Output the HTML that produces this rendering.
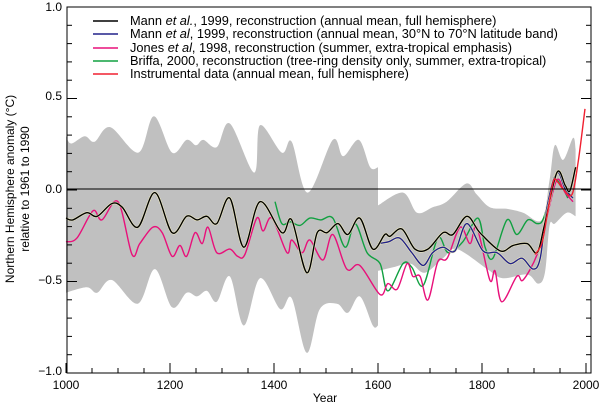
<!DOCTYPE html>
<html><head><meta charset="utf-8"><style>
html,body{margin:0;padding:0;background:#fff;}
svg{display:block;font-family:"Liberation Sans",Arial,sans-serif;}
</style></head><body>
<svg id="s" width="600" height="405" viewBox="0 0 600 405" xmlns="http://www.w3.org/2000/svg">
<g id="band"></g>
<g id="lines" fill="none" stroke-width="1.4"></g>
<line x1="67" y1="189" x2="591" y2="189" stroke="#000" stroke-width="1"/>
<rect x="67" y="7" width="524" height="366" fill="none" stroke="#000" stroke-width="1"/>
<g id="ticks" stroke="#000" stroke-width="1"></g>
<g font-size="12" fill="#000">
<text x="62" y="11" text-anchor="end">1.0</text>
<text x="62" y="100" text-anchor="end">0.5</text>
<text x="62" y="193" text-anchor="end">0.0</text>
<text x="62" y="284" text-anchor="end">−0.5</text>
<text x="62" y="375" text-anchor="end">−1.0</text>
<text x="66" y="389" text-anchor="middle">1000</text>
<text x="170" y="389" text-anchor="middle">1200</text>
<text x="274" y="389" text-anchor="middle">1400</text>
<text x="378" y="389" text-anchor="middle">1600</text>
<text x="482" y="389" text-anchor="middle">1800</text>
<text x="586" y="389" text-anchor="middle">2000</text>
<text x="325" y="402" text-anchor="middle">Year</text>
<text transform="translate(14,189) rotate(-90)" text-anchor="middle">Northern Hemisphere anomaly (°C)</text>
<text transform="translate(29,189) rotate(-90)" text-anchor="middle">relative to 1961 to 1990</text>
</g>
<g font-size="12.8" fill="#000">
<text x="130" y="25">Mann <tspan font-style="italic">et al.</tspan>, 1999, reconstruction (annual mean, full hemisphere)</text>
<text x="130" y="38">Mann <tspan font-style="italic">et al</tspan>, 1999, reconstruction (annual mean, 30°N to 70°N latitude band)</text>
<text x="130" y="52">Jones <tspan font-style="italic">et al</tspan>, 1998, reconstruction (summer, extra-tropical emphasis)</text>
<text x="130" y="65">Briffa, 2000, reconstruction (tree-ring density only, summer, extra-tropical)</text>
<text x="130" y="78">Instrumental data (annual mean, full hemisphere)</text>
</g>
<g stroke-width="1.6">
<line x1="93" y1="21" x2="118" y2="21" stroke="#000"/>
<line x1="93" y1="34" x2="118" y2="34" stroke="#22228a"/>
<line x1="93" y1="48" x2="118" y2="48" stroke="#e8107a"/>
<line x1="93" y1="61" x2="118" y2="61" stroke="#10a040"/>
<line x1="93" y1="74" x2="118" y2="74" stroke="#f02030"/>
</g>
</svg>
<script>
var X=function(y){return 66+(y-1000)*0.52},Y=function(v){return 189-v*182};
function pts(a){var r=[];for(var i=0;i<a.length;i+=2)r.push([X(a[i]),Y(a[i+1])]);return r;}
function cr(p){var d="M"+p[0][0].toFixed(1)+","+p[0][1].toFixed(1);
for(var i=0;i<p.length-1;i++){var p0=p[i-1]||p[i],p1=p[i],p2=p[i+1],p3=p[i+2]||p2;
var c1=[p1[0]+(p2[0]-p0[0])/6,p1[1]+(p2[1]-p0[1])/6],c2=[p2[0]-(p3[0]-p1[0])/6,p2[1]-(p3[1]-p1[1])/6];
d+="C"+c1[0].toFixed(1)+","+c1[1].toFixed(1)+" "+c2[0].toFixed(1)+","+c2[1].toFixed(1)+" "+p2[0].toFixed(1)+","+p2[1].toFixed(1);}
return d;}
var up1=[1000,.29,1010,.25,1036,.29,1055,.26,1085,.34,1139,.20,1169,.40,1204,.20,1232,.27,1250,.24,1264,.27,1290,.23,1315,.36,1362,.09,1373,.35,1415,.20,1434,.26,1465,-.02,1513,.27,1533,.18,1563,.27,1585,.12,1600,.12];
var up2=[1600,-.09,1648,-.02,1675,-.13,1705,-.1,1732,-.07,1770,.03,1790,-.03,1815,-.10,1850,-.11,1879,-.13,1915,-.17,1930,.05,1940,.24,1956,.16,1975,.28,1980,.22];
var lo2=[1980,-.15,1963,-.13,1940,-.19,1930,-.2,1921,-.46,1908,-.52,1887,-.47,1840,-.49,1810,-.44,1752,-.33,1725,-.38,1690,-.46,1662,-.41,1629,-.43,1600,-.45];
var lo1=[1600,-.75,1590,-.75,1565,-.59,1542,-.68,1521,-.63,1488,-.66,1463,-.90,1434,-.60,1412,-.66,1373,-.49,1342,-.75,1315,-.48,1290,-.62,1271,-.56,1252,-.59,1232,-.57,1204,-.65,1171,-.44,1138,-.63,1088,-.50,1060,-.57,1040,-.54,1000,-.57];
var bd=cr(pts(up1))+cr(pts(up2)).replace("M","L")+cr(pts(lo2)).replace("M","L")+cr(pts(lo1)).replace("M","L")+"Z";
document.getElementById("band").innerHTML='<path d="'+bd+'" fill="#c0c0c0"/>';
var S={
"#10a040":[1402,-.07,1415,-.19,1431,-.18,1450,-.20,1469,-.16,1490,-.17,1513,-.16,1537,-.32,1556,-.19,1579,-.35,1604,-.41,1619,-.56,1648,-.41,1665,-.43,1687,-.53,1715,-.27,1735,-.35,1763,-.29,1792,-.16,1806,-.32,1821,-.38,1848,-.17,1867,-.25,1888,-.17,1906,-.19,1917,-.17,1930,-.05,1940,.05,1952,.02,1960,-.02,1965,-.05],
"#e8107a":[1000,-.29,1021,-.27,1052,-.12,1069,-.17,1100,-.07,1127,-.36,1142,-.30,1167,-.21,1185,-.24,1204,-.37,1219,-.31,1232,-.37,1248,-.24,1262,-.30,1273,-.21,1290,-.35,1315,-.33,1330,-.37,1344,-.36,1367,-.16,1379,-.23,1396,-.16,1425,-.35,1434,-.28,1454,-.35,1469,-.28,1494,-.39,1513,-.25,1540,-.44,1565,-.42,1604,-.58,1619,-.52,1637,-.55,1656,-.41,1667,-.48,1681,-.48,1696,-.61,1715,-.40,1733,-.38,1758,-.21,1777,-.30,1790,-.21,1815,-.50,1825,-.45,1838,-.62,1867,-.48,1879,-.50,1906,-.36,1925,-.15,1944,.05,1960,-.02,1975,-.07],
"#22228a":[1600,-.30,1620,-.29,1642,-.27,1665,-.35,1687,-.42,1705,-.35,1725,-.32,1748,-.34,1771,-.19,1802,-.34,1829,-.35,1854,-.41,1877,-.38,1898,-.44,1912,-.38,1925,-.1,1944,.09,1960,.0,1975,-.05],
"#000":[1000,-.16,1013,-.17,1040,-.13,1060,-.15,1088,-.08,1108,-.10,1138,-.21,1171,-.02,1204,-.24,1232,-.15,1252,-.17,1271,-.15,1290,-.19,1315,-.05,1342,-.32,1373,-.07,1415,-.24,1434,-.17,1463,-.46,1483,-.24,1502,-.24,1523,-.19,1542,-.25,1565,-.16,1590,-.33,1613,-.25,1623,-.26,1646,-.22,1671,-.33,1696,-.33,1725,-.24,1744,-.25,1771,-.15,1796,-.24,1835,-.34,1860,-.31,1887,-.30,1906,-.35,1920,-.2,1944,.09,1960,.02,1969,-.01,1980,.12],
"#f02030":[1902,-.36,1915,-.3,1925,-.15,1937,.04,1945,.04,1956,.0,1973,-.03,1985,.15,1998,.44]};
var h="";for(var c in S){if(c=="#000"||c=="#22228a")h+='<path d="'+cr(pts(S[c]))+'" stroke="#f4f0c0" stroke-width="2.4"/>';h+='<path d="'+cr(pts(S[c]))+'" stroke="'+c+'"/>';}
document.getElementById("lines").innerHTML=h;
var t="";
for(var i=0;i<=20;i++){var y=7+i*18.3,l=(i%5==0)?10:5;t+='<line x1="67" y1="'+y+'" x2="'+(67+l)+'" y2="'+y+'"/><line x1="591" y1="'+y+'" x2="'+(591-l)+'" y2="'+y+'"/>';}
for(var yr=1000;yr<=2000;yr+=50){var x=X(yr),l=(yr%200==0)?10:5;t+='<line x1="'+x+'" y1="373" x2="'+x+'" y2="'+(373-l)+'"/>';}
document.getElementById("ticks").innerHTML=t;
</script>
</body></html>
